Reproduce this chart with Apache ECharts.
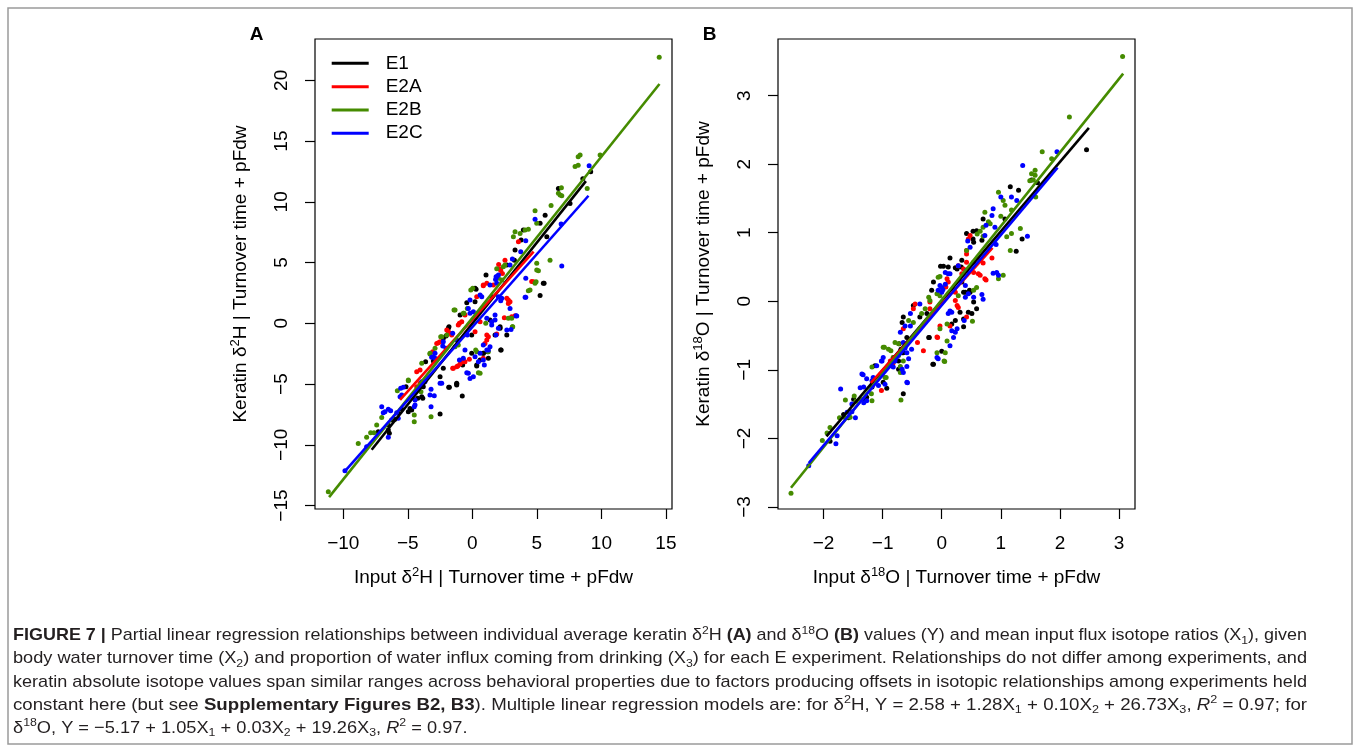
<!DOCTYPE html>
<html><head><meta charset="utf-8">
<script src="https://cdn.jsdelivr.net/npm/echarts@6/dist/echarts.min.js"></script>
<style>html,body{margin:0;padding:0;background:#fff}#c{width:1360px;height:752px}</style>
</head><body><div id="c"></div><script>
// ---------- Data ----------
const SERIES_NAMES = ['E1', 'E2A', 'E2B', 'E2C'];
const SERIES_COLORS = ['#000000', '#ff0000', '#458b00', '#0000ff'];

const A_X_TICKS = [-10, -5, 0, 5, 10, 15];
const A_Y_TICKS = [-15, -10, -5, 0, 5, 10, 15, 20];
const B_X_TICKS = [-2, -1, 0, 1, 2, 3];
const B_Y_TICKS = [-3, -2, -1, 0, 1, 2, 3];

// Panel A: partial residuals, delta2H
const A_E1 = [[8.56,11.9],[9.17,12.48],[6.67,11.1],[7.57,9.87],[5.77,7.13],[5.64,8.9],[5.25,8.23],[3.95,7.68],[3.78,6.86],[3.31,6.03],[3.26,5.2],[2.67,4.8],[1.06,3.97],[0.21,2.88],[5.56,3.29],[5.25,2.3],[2.15,-0.41],[2.67,-0.96],[2.2,-2.2],[1.19,-2.33],[0.85,-2.47],[0.6,-3.02],[0.34,-3.51],[-0.75,-3.43],[-1.21,-5.08],[-1.83,-5.27],[-0.78,-5.98],[-2.5,-4.39],[-2.25,-3.7],[-2.5,-7.47],[-4.7,-7.14],[-4.96,-7.27],[-4.23,-6.17],[-3.92,-6.04],[-3.84,-6.17],[-4.18,-5.35],[-3.8,-5.22],[-3.62,-3.16],[-3.02,-3.1],[-2.25,-1.23],[-2.04,-1.04],[-1.81,-0.28],[-0.43,1.7],[-0.95,0.68],[1.37,0.27],[-0.05,-0.96],[0.29,2.8],[1.5,2.19],[-7.29,-8.92],[-6.51,-8.78],[-6.43,-9.05],[-6.51,-8.37],[-6.25,-7.96],[-6.0,-7.9],[-5.74,-7.41],[-5.47,-7.08],[-4.83,-7.0],[-5.14,-5.22],[-1.78,-5.27],[-1.21,-5.0],[-1.86,-0.41],[0.21,1.78],[1.76,-0.96],[2.15,-0.28],[2.23,-2.2],[-0.05,-2.47],[0.34,-3.43],[-1.21,-4.94],[5.5,3.29],[0.85,-2.47],[1.24,-2.88]];
const A_E2A = [[3.57,6.72],[2.53,5.2],[2.04,4.85],[2.2,4.35],[0.85,3.1],[4.73,3.42],[4.6,3.45],[2.48,0.46],[1.89,-0.88],[1.12,-1.37],[0.98,-1.65],[0.85,-2.88],[-0.23,-2.96],[-0.57,-3.16],[-0.7,-3.16],[-0.95,-3.35],[-1.13,-3.51],[-1.52,-3.7],[-4.31,-3.98],[-4.05,-3.84],[-3.07,-2.33],[-2.63,-1.6],[-2.5,-1.51],[-1.98,-0.55],[-1.86,-0.69],[-1.0,0.0],[0.47,0.82],[0.6,0.14],[0.21,-0.69],[0.85,3.15],[1.63,3.15],[2.92,1.78],[2.79,1.92],[-4.05,-4.94],[-4.31,-5.22],[-2.76,-1.65],[-1.73,-0.82],[-1.6,-0.96],[-1.09,-0.14],[-0.82,0.14],[-0.57,0.68],[0.34,2.19],[1.12,3.29],[2.33,4.11],[2.15,4.47],[2.67,2.06],[2.79,1.64],[1.12,-0.96],[1.24,-1.1],[3.05,0.55],[3.31,0.63],[-0.7,-3.02],[-1.21,-3.57],[-1.47,-3.7]];
const A_E2B = [[14.48,21.9],[9.9,13.85],[8.35,13.85],[8.2,13.7],[7.96,12.9],[8.2,13.0],[8.9,11.1],[6.67,10.7],[6.8,10.56],[6.93,10.5],[6.9,11.15],[6.1,9.7],[4.86,9.27],[4.99,8.23],[4.34,7.74],[4.09,7.68],[3.31,7.54],[3.7,7.4],[3.18,7.13],[2.53,4.8],[2.4,4.66],[1.89,4.5],[-0.12,2.74],[0.03,2.88],[6.02,5.2],[4.99,4.94],[5.12,4.33],[4.34,2.68],[4.94,3.42],[2.79,0.41],[3.05,0.41],[3.13,-0.28],[1.04,0.0],[0.47,-4.06],[-3.2,-7.68],[-4.5,-7.55],[-4.5,-8.1],[-4.96,-4.67],[-3.98,-5.63],[-3.92,-3.29],[-3.28,-2.53],[-2.45,-1.1],[-1.42,1.09],[-1.34,-1.92],[-1.09,-1.79],[-0.7,0.82],[0.26,-2.2],[-11.16,-13.86],[-8.84,-9.88],[-8.19,-9.38],[-7.88,-9.0],[-7.62,-9.0],[-7.41,-8.37],[-7.02,-7.74],[-5.81,-5.55],[-4.96,-4.72],[-3.28,-2.47],[-2.89,-2.06],[-2.37,-1.1],[-1.98,-0.96],[-1.34,1.09],[-0.65,0.82],[-0.39,1.23],[2.02,3.7],[2.28,3.56],[3.1,-0.28],[0.34,-2.33],[1.24,-2.33],[0.6,-4.11],[4.86,3.29],[4.47,2.74],[4.99,4.39]];
const A_E2C = [[9.05,12.97],[6.88,8.17],[4.86,8.56],[4.14,6.8],[3.75,5.9],[3.1,5.3],[2.92,4.8],[1.89,3.83],[1.8,3.6],[1.37,3.15],[6.93,4.72],[4.14,3.7],[4.14,2.14],[3.44,0.6],[3.0,-0.5],[1.83,-0.96],[1.37,-1.93],[1.24,-2.2],[0.85,-3.02],[0.93,-3.43],[0.21,-2.75],[-0.43,-4.06],[-0.18,-4.53],[-2.5,-4.94],[-3.28,-5.9],[-3.2,-6.86],[-2.95,-5.96],[-4.5,-6.86],[-3.92,-4.8],[-3.67,-4.8],[-3.15,-2.8],[-2.89,-2.88],[-2.29,-1.87],[-2.04,-2.06],[-1.52,-0.82],[-1.21,-1.37],[-0.18,0.82],[0.08,0.95],[1.5,0.14],[1.76,0.27],[1.76,0.68],[-0.39,-0.96],[-0.57,-2.2],[-1.0,-3.02],[-0.7,-2.88],[1.89,3.29],[0.6,2.33],[0.73,2.19],[2.02,2.19],[2.28,2.06],[2.2,1.86],[-9.87,-12.13],[-8.19,-10.16],[-7.02,-6.86],[-6.9,-7.36],[-6.77,-7.27],[-6.51,-7.08],[-6.33,-7.19],[-6.51,-9.38],[-5.74,-7.82],[-5.86,-7.36],[-4.44,-6.72],[-4.44,-6.3],[-5.6,-6.04],[-5.47,-5.9],[-5.55,-5.35],[-5.35,-5.27],[-3.2,-5.43],[-2.37,-4.94],[-3.02,-2.75],[-2.89,-2.47],[-2.25,-1.51],[-0.31,1.23],[-0.18,1.92],[1.84,3.84],[2.02,3.97],[2.92,1.23],[1.12,0.41],[1.5,-0.14],[2.02,-0.41],[2.67,-0.55],[0.85,-1.79],[1.12,-2.2],[0.6,-2.47],[0.47,-3.16],[-0.31,-4.11],[0.08,-4.39],[3.39,0.63],[4.09,2.14]];
// Panel A fitted lines (end points)
const A_FIT_E1 = [[-7.8,-10.4],[8.8,11.7]];
const A_FIT_E2A = [[-5.6,-6.3],[4.75,5.9]];
const A_FIT_E2B = [[-11.1,-14.3],[14.5,19.7]];
const A_FIT_E2C = [[-9.9,-12.2],[9.0,10.5]];

// Panel B: partial residuals, delta18O
const B_E1 = [[2.45,2.21],[1.52,1.77],[1.62,1.73],[1.3,1.62],[1.16,1.67],[0.7,1.2],[1.07,1.2],[0.59,1.03],[1.36,0.91],[1.26,0.73],[0.53,1.02],[0.42,0.99],[0.53,0.91],[0.54,0.86],[0.68,0.89],[0.34,0.6],[0.26,0.47],[0.33,0.5],[0.14,0.63],[0.11,0.5],[-0.02,0.51],[-0.14,0.28],[-0.17,0.16],[0.37,0.13],[0.47,0.16],[0.03,0.51],[0.23,0.49],[0.2,0.17],[0.34,0.28],[0.4,0.13],[0.48,0.13],[0.54,-0.01],[0.59,-0.11],[0.51,-0.18],[0.45,-0.16],[0.31,-0.16],[0.37,-0.26],[0.23,-0.28],[0.37,-0.37],[0.17,-0.33],[-0.21,-0.53],[0.0,-0.73],[-0.14,-0.92],[-0.48,-0.06],[-0.37,-0.23],[-0.25,-0.18],[-0.67,-0.31],[-0.65,-0.23],[-0.59,-0.53],[-0.72,-0.62],[-0.67,-0.75],[-0.82,-0.89],[-0.73,-0.87],[-1.13,-0.94],[-1.89,-2.04],[-1.66,-1.65],[-1.58,-1.7],[-1.49,-1.43],[-1.18,-1.25],[-0.93,-1.27],[-0.99,-1.18],[-0.69,-0.7],[-0.65,-0.75],[-0.73,-0.99],[-0.65,-1.35],[-0.15,-0.92],[-0.22,-0.53],[-1.3,-1.43],[-1.27,-1.4]];
const B_E2A = [[0.48,0.96],[0.45,0.91],[0.42,0.69],[0.85,0.63],[0.7,0.56],[0.65,0.6],[0.54,0.57],[0.37,0.47],[0.34,0.4],[0.54,0.42],[0.62,0.4],[0.73,0.33],[0.09,0.33],[0.11,0.28],[0.42,0.57],[0.65,0.38],[0.75,0.31],[0.07,0.21],[0.11,0.11],[0.23,0.13],[0.26,-0.06],[0.28,-0.09],[0.23,0.01],[0.42,-0.23],[0.14,-0.36],[-0.03,-0.36],[-0.08,-0.52],[-0.31,-0.72],[-0.41,-0.6],[-0.48,-0.11],[-0.45,-0.04],[-0.2,-0.11],[-0.2,-0.01],[-0.65,-0.4],[-0.82,-0.82],[-0.87,-0.87],[-1.02,-1.3],[-0.07,-0.53],[-0.83,-0.92],[0.28,0.52],[0.42,0.74]];
const B_E2B = [[3.06,3.57],[2.16,2.69],[1.7,2.18],[1.86,2.08],[1.58,1.91],[1.52,1.86],[1.58,1.84],[1.49,1.76],[1.55,1.77],[1.59,1.52],[0.96,1.59],[1.04,1.47],[1.07,1.4],[1.18,1.33],[0.73,1.3],[0.79,1.16],[0.82,1.13],[0.7,1.08],[1.0,1.24],[0.6,0.98],[0.65,1.02],[0.7,0.95],[1.33,1.06],[1.1,0.94],[1.18,0.99],[1.16,0.74],[0.42,0.74],[1.04,0.38],[0.96,0.33],[-0.06,0.35],[-0.22,0.06],[0.59,0.2],[0.54,0.16],[-0.03,0.36],[-0.08,0.11],[-0.03,0.08],[0.28,0.08],[0.52,-0.29],[0.09,-0.33],[-0.03,-0.4],[0.09,-0.58],[0.04,-0.87],[-0.2,0.01],[-0.28,-0.11],[-0.34,-0.18],[-0.56,-0.28],[-0.48,-0.31],[-0.79,-0.6],[-0.73,-0.62],[-0.99,-0.67],[-0.9,-0.7],[-0.7,-1.04],[-1.18,-0.96],[-0.96,-1.11],[-0.08,-0.75],[0.06,-0.75],[-2.55,-2.8],[-2.02,-2.03],[-1.94,-1.92],[-1.89,-1.84],[-1.73,-1.7],[-1.63,-1.7],[-1.48,-1.38],[-1.38,-1.43],[-1.45,-1.46],[-1.63,-1.44],[-1.19,-1.35],[-1.18,-1.45],[-0.94,-1.11],[-0.97,-0.67],[-0.86,-0.72],[-0.82,-0.82],[-0.73,-0.79],[-0.7,-0.95],[-0.65,-0.87],[-0.69,-1.44],[0.05,-0.88],[-1.55,-1.69]];
const B_E2C = [[1.95,2.18],[1.37,1.98],[1.18,1.52],[1.27,1.47],[1.0,1.52],[0.87,1.35],[0.85,1.25],[0.75,1.11],[0.9,1.08],[0.73,0.96],[1.45,0.95],[0.92,0.83],[0.44,0.88],[0.48,0.79],[0.28,0.52],[0.42,0.45],[0.93,0.42],[0.96,0.38],[0.06,0.42],[0.11,0.4],[0.06,0.25],[-0.03,0.23],[0.02,0.17],[-0.06,0.16],[0.4,0.06],[0.54,0.06],[0.68,0.1],[0.7,0.03],[0.14,0.4],[0.87,0.41],[0.0,0.2],[0.0,0.13],[0.4,0.23],[0.45,0.11],[0.14,-0.14],[0.17,-0.16],[0.11,-0.18],[0.38,-0.28],[0.26,-0.4],[0.23,-0.45],[0.17,-0.43],[0.2,-0.53],[0.14,-0.65],[-0.08,-0.82],[-0.06,-0.84],[-0.37,-0.04],[-0.53,-0.18],[-0.62,-0.36],[-0.53,-0.36],[-0.7,-0.45],[-0.65,-0.6],[-0.62,-0.68],[-0.59,-0.75],[-0.51,-0.7],[-0.56,-0.84],[-0.82,-0.96],[-0.87,-0.94],[-0.67,-0.99],[-0.59,-0.95],[-0.65,-1.04],[-1.1,-0.94],[-1.01,-0.87],[-1.35,-1.06],[-1.27,-1.13],[-0.99,-0.82],[-2.25,-2.4],[-1.77,-1.96],[-1.79,-2.08],[-1.52,-1.61],[-1.46,-1.7],[-1.6,-1.62],[-1.32,-1.48],[-1.27,-1.45],[-1.52,-1.5],[-1.71,-1.28],[-1.33,-1.07],[-1.38,-1.26],[-1.32,-1.25],[-1.07,-1.23],[-1.18,-1.16],[-1.16,-1.11],[-1.02,-0.87],[-0.79,-0.87],[-0.59,-1.18],[-0.58,-1.19],[-0.96,-1.21]];
// Panel B fitted lines (end points)
const B_FIT_E1 = [[-1.95,-1.97],[2.49,2.53]];
const B_FIT_E2A = [[-1.2,-1.19],[0.86,0.78]];
const B_FIT_E2B = [[-2.55,-2.72],[3.07,3.32]];
const B_FIT_E2C = [[-2.25,-2.36],[1.96,1.95]];

// Caption fragments: [style, text]
const CAPTION = [
  [['b','FIGURE 7 | '],['n','Partial linear regression relationships between individual average keratin δ'],['sup','2'],['n','H '],['b','(A)'],['n',' and δ'],['sup','18'],['n','O '],['b','(B)'],['n',' values (Y) and mean input flux isotope ratios (X'],['sub','1'],['n','), given']],
  [['n','body water turnover time (X'],['sub','2'],['n',') and proportion of water influx coming from drinking (X'],['sub','3'],['n',') for each E experiment. Relationships do not differ among experiments, and']],
  [['n','keratin absolute isotope values span similar ranges across behavioral properties due to factors producing offsets in isotopic relationships among experiments held']],
  [['n','constant here (but see '],['b','Supplementary Figures B2, B3'],['n','). Multiple linear regression models are: for δ'],['sup','2'],['n','H, Y = 2.58 + 1.28X'],['sub','1'],['n',' + 0.10X'],['sub','2'],['n',' + 26.73X'],['sub','3'],['n',', '],['i','R'],['sup','2'],['n',' = 0.97; for']],
  [['n','δ'],['sup','18'],['n','O, Y = −5.17 + 1.05X'],['sub','1'],['n',' + 0.03X'],['sub','2'],['n',' + 19.26X'],['sub','3'],['n',', '],['i','R'],['sup','2'],['n',' = 0.97.']]
];

// ---------- Rendering ----------
const FF = '"Liberation Sans", Arial, Helvetica, sans-serif';
const FS = 19;
const minus = v => String(v).replace('-', '\u2212');

const A_SCATTER = [A_E1, A_E2A, A_E2B, A_E2C];
const A_FITS = [A_FIT_E1, A_FIT_E2A, A_FIT_E2B, A_FIT_E2C];
const B_SCATTER = [B_E1, B_E2A, B_E2B, B_E2C];
const B_FITS = [B_FIT_E1, B_FIT_E2A, B_FIT_E2B, B_FIT_E2C];

function nameStyle() {
  return {
    fontSize: FS, fontFamily: FF, color: '#000', lineHeight: 24,
    rich: { sup: { fontSize: 13, fontFamily: FF, color: '#000', lineHeight: 10, verticalAlign: 'top' } }
  };
}
function xAxis(idx, min, max, ticks, name) {
  return {
    type: 'value', gridIndex: idx, min, max, name,
    nameLocation: 'middle', nameGap: 57, nameTextStyle: nameStyle(),
    axisLine: { show: false, onZero: false },
    axisTick: { show: true, length: 10, customValues: ticks, lineStyle: { color: '#000', width: 1.2 } },
    axisLabel: { customValues: ticks, formatter: minus, fontSize: FS, fontFamily: FF, color: '#000', margin: 25 },
    splitLine: { show: false }
  };
}
function yAxis(idx, min, max, ticks, name) {
  return {
    type: 'value', gridIndex: idx, min, max, name,
    nameLocation: 'middle', nameGap: 62, nameTextStyle: nameStyle(),
    axisLine: { show: false, onZero: false },
    axisTick: { show: true, length: 10, customValues: ticks, lineStyle: { color: '#000', width: 1.2 } },
    axisLabel: { customValues: ticks, formatter: minus, rotate: 90, fontSize: FS, fontFamily: FF, color: '#000', margin: 24 },
    splitLine: { show: false }
  };
}

const series = [];
[[A_SCATTER, A_FITS, 0], [B_SCATTER, B_FITS, 1]].forEach(([sc, fits, gi]) => {
  sc.forEach((d, k) => series.push({
    type: 'scatter', name: SERIES_NAMES[k], xAxisIndex: gi, yAxisIndex: gi, data: d,
    symbol: 'circle', symbolSize: 5, itemStyle: { color: SERIES_COLORS[k], opacity: 1 },
    emphasis: { disabled: true }, z: 2
  }));
  fits.forEach((d, k) => series.push({
    type: 'line', name: SERIES_NAMES[k], xAxisIndex: gi, yAxisIndex: gi, data: d,
    showSymbol: false, symbol: 'none', itemStyle: { color: SERIES_COLORS[k] },
    lineStyle: { color: SERIES_COLORS[k], width: 2.6 }, emphasis: { disabled: true }, z: 3 + k
  }));
});

// caption graphic
const CAP_SIZE = 17;
const CAP_SMALL = 11.5;
const CAP_TARGET = 1294;
const CAP_X = 13, CAP_Y0 = 635.5, CAP_DY = 23.2;
const ctx = document.createElement('canvas').getContext('2d');
const capFontOf = s => (s === 'i' ? 'italic normal ' : s === 'b' ? 'normal bold ' : 'normal normal ') +
  ((s === 'sup' || s === 'sub') ? CAP_SMALL : CAP_SIZE) + 'px ' + FF;
const capRich = {
  n: { fontSize: CAP_SIZE, fontFamily: FF, fill: '#231f20', lineHeight: 22 },
  b: { fontSize: CAP_SIZE, fontFamily: FF, fontWeight: 'bold', fill: '#231f20', lineHeight: 22 },
  i: { fontSize: CAP_SIZE, fontFamily: FF, fontStyle: 'italic', fill: '#231f20', lineHeight: 22 },
  sup: { fontSize: CAP_SMALL, fontFamily: FF, fill: '#231f20', lineHeight: 10, verticalAlign: 'top' },
  sub: { fontSize: CAP_SMALL, fontFamily: FF, fill: '#231f20', lineHeight: 10, verticalAlign: 'bottom' }
};
const widths = CAPTION.map(line => line.reduce((w, [s, t]) => { ctx.font = capFontOf(s); return w + ctx.measureText(t).width; }, 0));
const scales = widths.slice(0, 4).map(w => CAP_TARGET / w);
const avgScale = scales.reduce((a, b) => a + b, 0) / scales.length;
const captionEls = CAPTION.map((line, i) => ({
  type: 'text', x: CAP_X, y: CAP_Y0 + i * CAP_DY, scaleX: i < 4 ? scales[i] : avgScale, scaleY: 1,
  style: {
    text: line.map(([s, t]) => '{' + s + '|' + t + '}').join(''),
    rich: capRich, align: 'left', verticalAlign: 'middle', fill: '#231f20'
  },
  silent: true
}));

const option = {
  animation: false,
  backgroundColor: '#ffffff',
  grid: [
    { left: 315, top: 39, width: 357, height: 470, show: true, borderColor: '#000', borderWidth: 1.2, backgroundColor: 'transparent', containLabel: false, outerBoundsMode: 'none' },
    { left: 778, top: 39, width: 357, height: 470, show: true, borderColor: '#000', borderWidth: 1.2, backgroundColor: 'transparent', containLabel: false, outerBoundsMode: 'none' }
  ],
  xAxis: [
    xAxis(0, -12.19, 15.47, A_X_TICKS, 'Input δ{sup|2}H | Turnover time + pFdw'),
    xAxis(1, -2.77, 3.27, B_X_TICKS, 'Input δ{sup|18}O | Turnover time + pFdw')
  ],
  yAxis: [
    yAxis(0, -15.28, 23.4, A_Y_TICKS, 'Keratin δ{sup|2}H | Turnover time + pFdw'),
    yAxis(1, -3.03, 3.826, B_Y_TICKS, 'Keratin δ{sup|18}O | Turnover time + pFdw')
  ],
  legend: {
    data: SERIES_NAMES, orient: 'vertical', left: 331.7, top: 51.7, padding: 0,
    icon: 'rect', itemWidth: 37, itemHeight: 3, itemGap: 0, selectedMode: false,
    textStyle: { fontSize: FS, fontFamily: FF, color: '#000', lineHeight: 23.3, padding: [0, 0, 0, 12] }
  },
  graphic: [
    { type: 'rect', shape: { x: 8, y: 8, width: 1344, height: 736 }, style: { fill: 'none', stroke: '#9a9a9a', lineWidth: 1.5 }, silent: true, z: -1 },
    { type: 'text', x: 256.5, y: 35, style: { text: 'A', font: 'bold 19px ' + FF, fill: '#000', align: 'center', verticalAlign: 'middle' }, silent: true },
    { type: 'text', x: 709.5, y: 35, style: { text: 'B', font: 'bold 19px ' + FF, fill: '#000', align: 'center', verticalAlign: 'middle' }, silent: true },
    ...captionEls
  ],
  series
};

const chart = echarts.init(document.getElementById('c'), null, { renderer: 'canvas' });
chart.setOption(option);
</script></body></html>
